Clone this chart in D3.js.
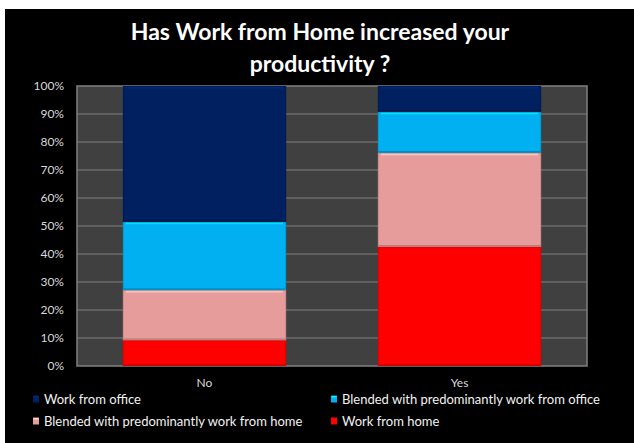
<!DOCTYPE html>
<html>
<head>
<meta charset="utf-8">
<script src="https://cdn.jsdelivr.net/npm/d3@7"></script>
<style>
  html, body { margin: 0; padding: 0; background: #ffffff; }
  svg { display: block; }
  text { font-family: Lato, "Open Sans", sans-serif; }
</style>
</head>
<body>
<script>
// Survey answers and the share of each work mode within them (percent)
const categories = ["No", "Yes"];
const seriesNames = [
  "Work from home",
  "Blended with predominantly work from home",
  "Blended with predominantly work from office",
  "Work from office"
];
const workFromHome      = [9.2, 42.6];
const blendedHome       = [17.9, 33.6];
const blendedOffice     = [24.4, 14.6];
const workFromOffice    = [48.5, 9.2];
const yTicks = [0, 10, 20, 30, 40, 50, 60, 70, 80, 90, 100];
const seriesColors = ["#ff0000", "#e59c9b", "#00b0f0", "#002060"];
// legend order as laid out: row by row, two per row
const legendOrder = [3, 2, 1, 0];

const W = 634, H = 443;
const svg = d3.select("body").append("svg").attr("width", W).attr("height", H);

// white margin then black chart area
svg.append("rect").attr("x", 0).attr("y", 0).attr("width", W).attr("height", H).attr("fill", "#ffffff");
svg.append("rect").attr("x", 5).attr("y", 9).attr("width", W - 5).attr("height", H - 9).attr("fill", "#000000");

const plot = { left: 77, right: 587, top: 86, bottom: 366 };

const x = d3.scaleBand().domain(categories).range([plot.left, plot.right]).paddingInner(0.36).paddingOuter(0.18);
const y = d3.scaleLinear().domain([0, 100]).range([plot.bottom, plot.top]);

// title
const title = svg.append("text")
  .attr("text-anchor", "middle")
  .attr("fill", "#ffffff").attr("font-weight", "bold").attr("font-size", 23);
title.append("tspan").attr("x", 320).attr("y", 40).text("Has Work from Home increased your");
title.append("tspan").attr("x", 320).attr("y", 72).text("productivity ?");

// plot background
svg.append("rect")
  .attr("x", plot.left).attr("y", plot.top)
  .attr("width", plot.right - plot.left).attr("height", plot.bottom - plot.top)
  .attr("fill", "#404040").attr("stroke", "#808080").attr("stroke-width", 1.5);

// gridlines
svg.append("g").selectAll("line").data(yTicks.slice(1, -1)).join("line")
  .attr("x1", plot.left).attr("x2", plot.right)
  .attr("y1", d => y(d)).attr("y2", d => y(d))
  .attr("stroke", "#808080").attr("stroke-width", 1.2);

// y axis
const yAxis = d3.axisLeft(y).tickValues(yTicks).tickFormat(d => d + "%").tickSize(0).tickPadding(13);
const ga = svg.append("g").attr("transform", `translate(${plot.left},0)`).call(yAxis);
ga.select(".domain").remove();
ga.selectAll("text").attr("fill", "#d9d9d9").attr("font-size", 12).attr("font-family", "Lato, sans-serif");

// stacked bars
const table = categories.map((c, i) => ({
  cat: c,
  "Work from home": workFromHome[i],
  "Blended with predominantly work from home": blendedHome[i],
  "Blended with predominantly work from office": blendedOffice[i],
  "Work from office": workFromOffice[i]
}));
const stacked = d3.stack().keys(seriesNames)(table);

stacked.forEach((layer, si) => {
  const base = d3.color(seriesColors[si]);
  const g = svg.append("g");
  g.selectAll("rect.fill").data(layer).join("rect").attr("class", "fill")
    .attr("x", d => x(d.data.cat))
    .attr("width", x.bandwidth())
    .attr("y", d => y(d[1]))
    .attr("height", d => y(d[0]) - y(d[1]))
    .attr("fill", seriesColors[si]);
  // top highlight and bottom shade for a bevelled look
  g.selectAll("line.hi").data(layer).join("line").attr("class", "hi")
    .attr("x1", d => x(d.data.cat) + 3).attr("x2", d => x(d.data.cat) + x.bandwidth() - 3)
    .attr("y1", d => y(d[1]) + 1.5).attr("y2", d => y(d[1]) + 1.5)
    .attr("stroke", base.brighter(0.8)).attr("stroke-width", 2).attr("opacity", 0.85);
  g.selectAll("line.lo").data(layer).join("line").attr("class", "lo")
    .attr("x1", d => x(d.data.cat)).attr("x2", d => x(d.data.cat) + x.bandwidth())
    .attr("y1", d => y(d[0]) - 1).attr("y2", d => y(d[0]) - 1)
    .attr("stroke", base.darker(0.8)).attr("stroke-width", 1.5).attr("opacity", 0.8);
  g.selectAll("rect.edge").data(layer).join("rect").attr("class", "edge")
    .attr("x", d => x(d.data.cat) + 0.5)
    .attr("width", x.bandwidth() - 1)
    .attr("y", d => y(d[1]) + 0.5)
    .attr("height", d => y(d[0]) - y(d[1]) - 1)
    .attr("fill", "none")
    .attr("stroke", base.darker(0.5)).attr("stroke-width", 1).attr("opacity", 0.7);
});

// category labels
svg.append("g").selectAll("text").data(categories).join("text")
  .attr("x", d => x(d) + x.bandwidth() / 2)
  .attr("y", 387)
  .attr("text-anchor", "middle")
  .attr("fill", "#d9d9d9").attr("font-size", 12)
  .text(d => d);

// legend
const legendPos = [[33, 399], [331, 399], [33, 421], [331, 421]];
const lg = svg.append("g").selectAll("g").data(legendOrder).join("g")
  .attr("transform", (d, i) => `translate(${legendPos[i][0]},${legendPos[i][1]})`);
lg.append("rect").attr("x", 0).attr("y", -3.5).attr("width", 6).attr("height", 7)
  .attr("fill", d => seriesColors[d]);
lg.append("rect").attr("x", 0.5).attr("y", -3).attr("width", 5).attr("height", 1.5)
  .attr("fill", d => d3.color(seriesColors[d]).brighter(0.9));
lg.append("text").attr("x", 11).attr("y", 0).attr("dy", "0.35em")
  .attr("fill", "#f2f2f2").attr("font-size", 13)
  .text(d => seriesNames[d]);
</script>
</body>
</html>
